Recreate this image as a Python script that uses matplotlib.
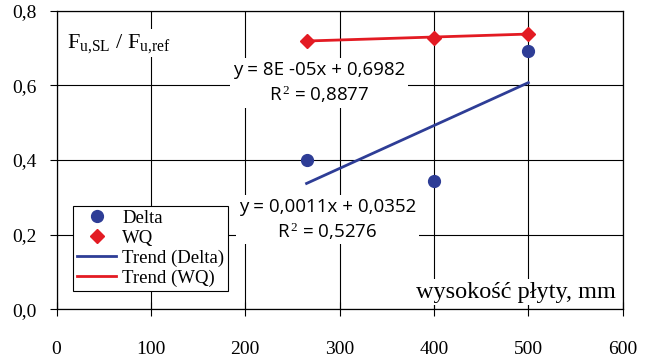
import numpy as np
import matplotlib
matplotlib.use("Agg")
import matplotlib.pyplot as plt

# data
x_vals = [265, 400, 500]
delta_vals = [0.40, 0.345, 0.692]
wq_vals = [0.720, 0.727, 0.739]
x_ticks = [0, 100, 200, 300, 400, 500, 600]
y_ticks = [0.0, 0.2, 0.4, 0.6, 0.8]
y_tick_labels = ["0,0", "0,2", "0,4", "0,6", "0,8"]
eq_delta = "y = 0,0011x + 0,0352\nR$^{\\,2}$ = 0,5276"
eq_wq = "y = 8E -05x + 0,6982\nR$^{\\,2}$ = 0,8877"
ylabel_text = r"F$_{\mathrm{u{,}SL}}$ / F$_{\mathrm{u{,}ref}}$"
xlabel_text = "wysokość płyty, mm"

blue = "#2e3d96"
red = "#e31b23"

plt.rcParams["font.family"] = ["Liberation Serif", "DejaVu Serif"]
plt.rcParams["mathtext.fontset"] = "custom"
plt.rcParams["mathtext.rm"] = "Liberation Serif"
plt.rcParams["mathtext.it"] = "Liberation Serif:italic"

fig = plt.figure(figsize=(6.51, 3.58), dpi=100)
ax = fig.add_axes([0.0868, 0.136, 0.9565 - 0.0868, 0.970 - 0.136])
ax.set_xlim(0, 600)
ax.set_ylim(0, 0.8)
ax.set_xticks(x_ticks)
ax.set_yticks(y_ticks)
ax.set_yticklabels(y_tick_labels)
ax.grid(True, color="black", lw=0.8)
ax.set_axisbelow(True)
for s in ax.spines.values():
    s.set_linewidth(0.9)
    s.set_color("black")
ax.tick_params(axis="y", direction="out", length=5, width=0.8, labelsize=14, pad=9)
ax.tick_params(axis="x", direction="inout", length=10, width=0.8, labelsize=14, pad=18)

xs = np.array(x_vals, dtype=float)
# trend lines
pd_ = np.polyfit(xs, delta_vals, 1)
pw_ = np.polyfit(xs, wq_vals, 1)
ax.plot(xs[[0, -1]], np.polyval(pd_, xs[[0, -1]]), color=blue, lw=2, label="Trend (Delta)", zorder=3)
ax.plot(xs[[0, -1]], np.polyval(pw_, xs[[0, -1]]), color=red, lw=2, label="Trend (WQ)", zorder=3)
ax.plot(xs, delta_vals, "o", color=blue, ms=8.5, label="Delta", zorder=4)
ax.plot(xs, wq_vals, "D", color=red, ms=7, label="WQ", zorder=4)

h, l = ax.get_legend_handles_labels()
order = [2, 3, 0, 1]
leg = ax.legend([h[i] for i in order], [l[i] for i in order], loc="lower left",
                bbox_to_anchor=(0.0297, 0.0623), borderaxespad=0, fontsize=13.5,
                fancybox=False, framealpha=1, edgecolor="black", handlelength=2.1,
                handletextpad=0.3, labelspacing=0.15, borderpad=0.2)
leg.get_frame().set_linewidth(0.8)

bbox = dict(facecolor="white", edgecolor="none", pad=2)
ax.text(278, 0.606, eq_wq, ha="center", va="center", fontsize=13.5, family="Open Sans",
        linespacing=1.25, bbox=bbox, zorder=5)
ax.text(287, 0.240, eq_delta, ha="center", va="center", fontsize=13.5, family="Open Sans",
        linespacing=1.25, bbox=bbox, zorder=5)
ax.text(11, 0.713, ylabel_text, ha="left", va="center", fontsize=16, bbox=bbox, zorder=5)
ax.text(593, 0.046, xlabel_text, ha="right", va="center", fontsize=17.5, bbox=bbox, zorder=5)

fig.savefig("out.png", dpi=100)
